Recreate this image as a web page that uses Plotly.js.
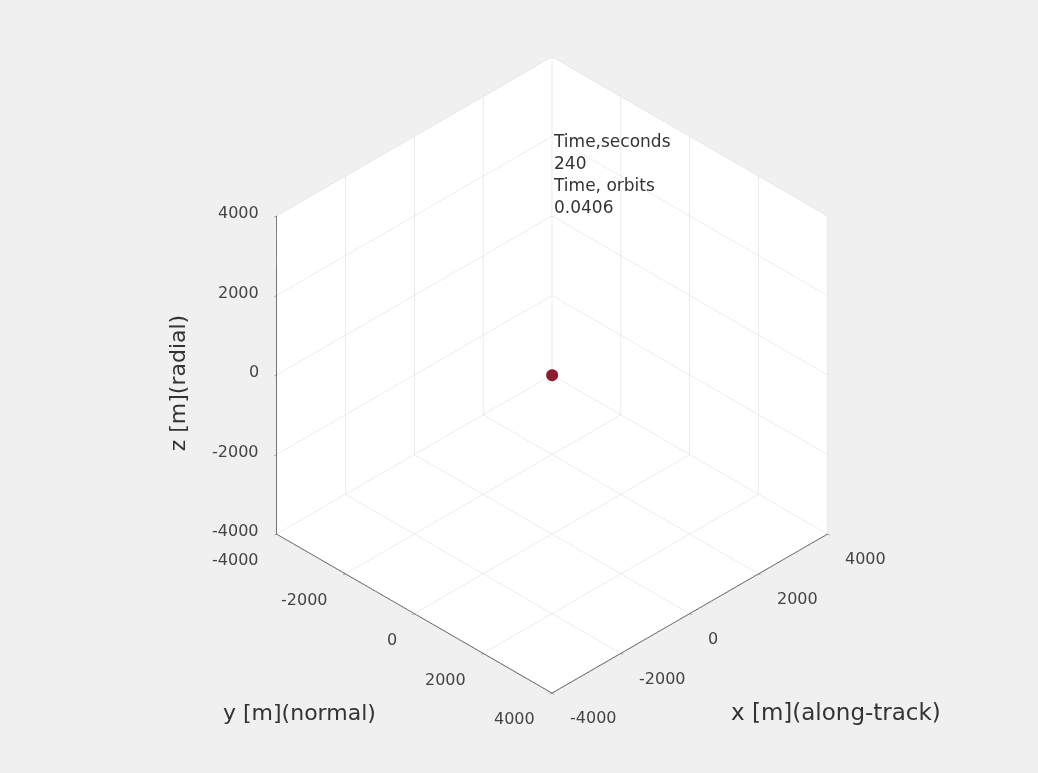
<!DOCTYPE html>
<html><head><meta charset="utf-8">
<script src="https://cdn.plot.ly/plotly-3.0.1.min.js"></script>
<style>html,body{margin:0;padding:0;background:#f0f0f0;}</style>
</head><body>
<div id="chart" style="width:1038px;height:773px;"></div>
<script>
const pointX = [0];
const pointY = [0];
const pointZ = [0];
const tickValues = [-4000, -2000, 0, 2000, 4000];
const tickLabels = ['-4000', '-2000', '0', '2000', '4000'];
const axisMin = -4000;
const axisMax = 4000;
const timeSeconds = 240;
const timeOrbits = 0.0406;
const xLabel = 'x [m](along-track)';
const yLabel = 'y [m](normal)';
const zLabel = 'z [m](radial)';

const FONT = 'DejaVu Sans, Liberation Sans, Arial, sans-serif';

function axisStyle(range) {
  return {
    range: range,
    autorange: false,
    tickvals: tickValues,
    ticktext: tickLabels,
    showticklabels: false,
    showbackground: true,
    backgroundcolor: '#ffffff',
    gridcolor: '#dadada',
    gridwidth: 1,
    showline: true,
    linecolor: '#5e5e5e',
    linewidth: 2,
    zeroline: false,
    ticks: 'outside',
    ticklen: 3,
    tickcolor: '#5e5e5e',
    showspikes: false,
    title: {text: ''}
  };
}

const trace = {
  type: 'scatter3d',
  mode: 'markers',
  x: pointX, y: pointY, z: pointZ,
  marker: {size: 7, color: '#8e1b2e'},
  hoverinfo: 'skip'
};

const tickFont = {family: FONT, size: 16, color: '#444444'};
const labelFont = {family: FONT, size: 22, color: '#333333'};

const sceneAnn = [];
tickValues.forEach(function (v, i) {
  sceneAnn.push({x: axisMin, y: axisMin, z: v, text: tickLabels[i], showarrow: false,
    xanchor: 'right', yanchor: 'middle', xshift: -15, yshift: 3, font: tickFont});
  sceneAnn.push({x: axisMin, y: v, z: axisMin, text: tickLabels[i], showarrow: false,
    xanchor: 'right', yanchor: 'middle', xshift: -15, yshift: -26, font: tickFont});
  sceneAnn.push({x: v, y: axisMax, z: axisMin, text: tickLabels[i], showarrow: false,
    xanchor: 'left', yanchor: 'middle', xshift: 16, yshift: -25, font: tickFont});
});
sceneAnn.push({x: axisMin, y: axisMin, z: 0, text: zLabel, showarrow: false, textangle: -90,
  xshift: -99, yshift: -8, font: labelFont});
sceneAnn.push({x: axisMin, y: 0, z: axisMin, text: yLabel, showarrow: false,
  xshift: -115, yshift: -99, font: labelFont});
sceneAnn.push({x: 0, y: axisMax, z: axisMin, text: xLabel, showarrow: false,
  xshift: 146, yshift: -99, font: {family: FONT, size: 23, color: '#333333'}});

const layout = {
  width: 1038, height: 773,
  paper_bgcolor: '#f0f0f0',
  margin: {l: 0, r: 0, t: 0, b: 0},
  showlegend: false,
  hovermode: false,
  scene: {
    domain: {x: [0.0635, 1], y: [0.03, 1]},
    aspectmode: 'manual',
    aspectratio: {x: 1.039, y: 1.039, z: 1.039},
    bgcolor: 'rgba(0,0,0,0)',
    xaxis: axisStyle([axisMax, axisMin]),
    yaxis: axisStyle([axisMin, axisMax]),
    zaxis: axisStyle([axisMin, axisMax]),
    camera: {
      eye: {x: 1.25, y: 1.25, z: 1.25},
      up: {x: 0, y: 0, z: 1},
      center: {x: 0, y: 0, z: 0},
      projection: {type: 'orthographic'}
    },
    annotations: sceneAnn
  },
  annotations: [
    {xref: 'paper', yref: 'paper', x: 551/1038, y: 1 - 129/773, xanchor: 'left', yanchor: 'top', align: 'left',
     showarrow: false, font: {family: FONT, size: 17, color: '#333333'},
     text: 'Time,seconds<br>' + timeSeconds + '<br>Time, orbits<br>' + timeOrbits}
  ]
};

Plotly.newPlot('chart', [trace], layout, {displayModeBar: false});
</script>
</body></html>
